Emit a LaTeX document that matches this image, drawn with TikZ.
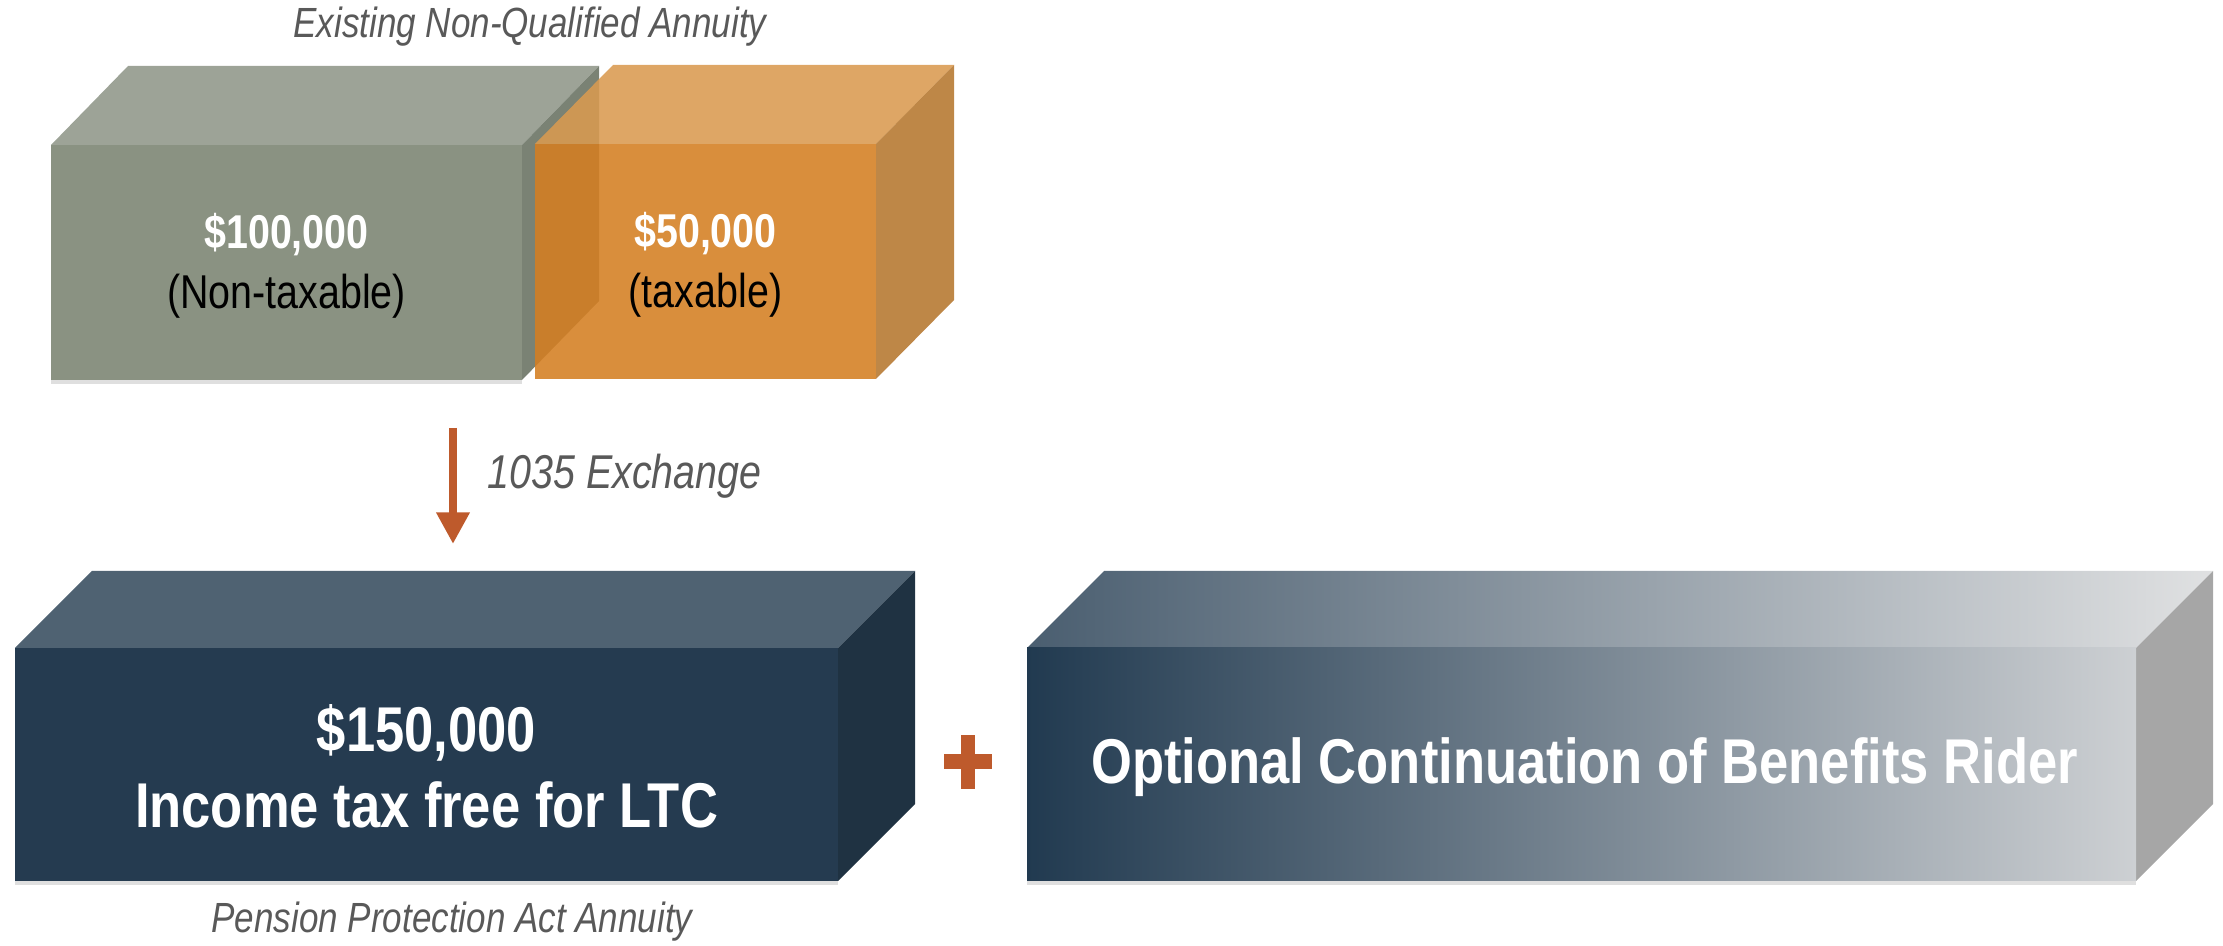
\documentclass[tikz,border=0pt]{standalone}
\usepackage{fontspec}
\setmainfont{Liberation Sans}[FakeStretch=0.83]
\usetikzlibrary{calc,arrows.meta,positioning,shadows}

\definecolor{sagefront}{HTML}{8A9282}
\definecolor{sagetop}{HTML}{9DA397}
\definecolor{sageside}{HTML}{7A8274}
\definecolor{amber}{HTML}{D47E21}
\definecolor{ambertop}{HTML}{D99A50}
\definecolor{amberside}{HTML}{B5762E}
\definecolor{navyfront}{HTML}{253B50}
\definecolor{navytop}{HTML}{4F6272}
\definecolor{navyside}{HTML}{1F3242}
\definecolor{riderleft}{HTML}{213A50}
\definecolor{riderright}{HTML}{CDD0D3}
\definecolor{ridertopl}{HTML}{4A5E70}
\definecolor{ridertopr}{HTML}{E0E1E2}
\definecolor{riderside}{HTML}{A6A6A6}
\definecolor{accent}{HTML}{BE5A2C}
\definecolor{capgray}{HTML}{595959}

\begin{document}
\begin{tikzpicture}[x=0.01cm,y=-0.01cm,
    every node/.style={inner sep=0pt, align=center},
    caption/.style={font=\fontsize{12}{14}\selectfont\itshape, text=capgray},
    small/.style={font=\fontsize{13.5}{17}\selectfont},
    big/.style={font=\fontsize{18}{21.6}\selectfont\bfseries, text=white},
    boxshadow/.style={drop shadow={shadow xshift=0pt, shadow yshift=-1.2pt, opacity=0.25}}]
        \useasboundingbox (0,0) rectangle (2223,946);

        % old annuity, non-taxable part
        \coordinate (g1) at (51,380);
        \coordinate (g2) at (522,380);
        \coordinate (g3) at (522,145);
        \coordinate (g4) at (51,145);
        \fill[sagetop] (g4) -- (g3) -- ++(77,-79) -- ($(g4)+(77,-79)$) -- cycle;
        \fill[sageside] (g2) -- (g3) -- ++(77,-79) -- ($(g2)+(77,-79)$) -- cycle;
        \fill[sagefront, boxshadow] (g1) rectangle (g3);
        \node[small] (nontax) at ($(g1)!.5!(g3)+(0,3)$)
            {\textcolor{white}{\bfseries\$100,000}\\(Non-taxable)};

        % taxable part, see-through
        \coordinate (o1) at (535,379);
        \coordinate (o2) at (876,379);
        \coordinate (o3) at (876,144);
        \coordinate (o4) at (535,144);
        \begin{scope}[fill opacity=0.88]
        \fill[ambertop] (o4) -- (o3) -- ++(78,-79) -- ($(o4)+(78,-79)$) -- cycle;
        \fill[amberside] (o2) -- (o3) -- ++(78,-79) -- ($(o2)+(78,-79)$) -- cycle;
        \fill[amber] (o1) rectangle (o3);
        \end{scope}
        \node[small] (tax) at ($(o1)!.5!(o3)+(0,3)$)
            {\textcolor{white}{\bfseries\$50,000}\\(taxable)};

        \node[caption] (oldname) at (530,27) {Existing Non-Qualified Annuity};

        % 1035 exchange
        \coordinate (xtop) at (453,428);
        \coordinate (xbot) at (453,544);
        \draw[accent, line width=2.3pt, -{Triangle[width=9pt,length=9pt]}] (xtop) -- (xbot);
        \node[caption, font=\fontsize{13.5}{16}\selectfont\itshape, anchor=west] (xlabel)
            at ($(xtop)!.42!(xbot)+(34,0)$) {1035 Exchange};

        % new annuity
        \coordinate (n1) at (15,881);
        \coordinate (n2) at (838,881);
        \coordinate (n3) at (838,648);
        \coordinate (n4) at (15,648);
        \fill[navytop] (n4) -- (n3) -- ++(77,-77) -- ($(n4)+(77,-77)$) -- cycle;
        \fill[navyside] (n2) -- (n3) -- ++(77,-77) -- ($(n2)+(77,-77)$) -- cycle;
        \fill[navyfront, boxshadow] (n1) rectangle (n3);
        \node[big] (ltc) at ($(n1)!.5!(n3)+(0,2)$) {\$150,000\\Income tax free for LTC};
        \node[caption] (ppa) at (452,922) {Pension Protection Act Annuity};

        % plus
        \coordinate (plus) at (968,762);
        \fill[accent] ($(plus)+(-24,-7.5)$) rectangle ($(plus)+(24,7.5)$);
        \fill[accent] ($(plus)+(-7,-27)$) rectangle ($(plus)+(7,27)$);

        % rider
        \coordinate (r1) at (1027,881);
        \coordinate (r2) at (2136,881);
        \coordinate (r3) at (2136,648);
        \coordinate (r4) at (1027,648);
        \shade[left color=ridertopl, right color=ridertopr]
            (r4) -- (r3) -- ++(77,-77) -- ($(r4)+(77,-77)$) -- cycle;
        \fill[riderside] (r2) -- (r3) -- ++(77,-77) -- ($(r2)+(77,-77)$) -- cycle;
        \shade[left color=riderleft, right color=riderright, boxshadow] (r1) rectangle (r3);
        \node[big] (rider) at ($(r1)!.5!(r3)+(3,3)$) {Optional Continuation of Benefits Rider};
    \end{tikzpicture}
\end{document}
